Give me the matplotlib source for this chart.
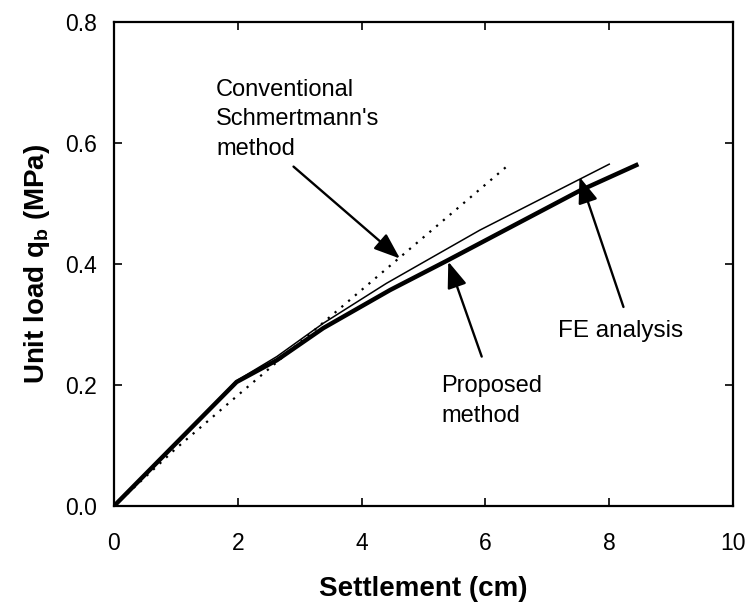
import matplotlib
matplotlib.use('Agg')
import matplotlib.pyplot as plt

plt.rcParams['font.family'] = ['Liberation Sans', 'DejaVu Sans']
plt.rcParams['mathtext.fontset'] = 'custom'
plt.rcParams['mathtext.rm'] = 'Liberation Sans'
plt.rcParams['mathtext.bf'] = 'Liberation Sans:bold'

# settlement (cm) / unit load (MPa)
fe_x = [0, 1.98, 2.63, 3.38, 4.4, 5.91, 7.52, 8.0]
fe_y = [0, 0.207, 0.247, 0.302, 0.368, 0.456, 0.540, 0.565]

prop_x = [0, 1.98, 2.63, 3.38, 4.46, 5.37, 6.5, 7.52, 8.47]
prop_y = [0, 0.205, 0.241, 0.294, 0.357, 0.405, 0.466, 0.521, 0.565]

conv_x = [0, 1.0, 2.0, 6.33]
conv_y = [0, 0.095, 0.183, 0.560]

x_ticks = [0, 2, 4, 6, 8, 10]
y_ticks = [0.0, 0.2, 0.4, 0.6, 0.8]

fig = plt.figure(figsize=(7.48, 6.11), dpi=100)
ax = fig.add_axes([0.1524, 0.1718, 0.8276, 0.7922])

ax.plot(prop_x, prop_y, color='black', lw=3.2, solid_capstyle='butt')
ax.plot(fe_x, fe_y, color='black', lw=1.1)
ax.plot(conv_x, conv_y, color='black', lw=1.6, linestyle=(0, (1, 3)))

arrow = dict(arrowstyle='-|>,head_length=0.8,head_width=0.3', lw=1.7,
             color='black', mutation_scale=20, shrinkA=0, shrinkB=0)
ax.annotate('', xy=(4.62, 0.409), xytext=(2.90, 0.561), arrowprops=arrow)
ax.annotate('', xy=(5.40, 0.404), xytext=(5.94, 0.247), arrowprops=arrow)
ax.annotate('', xy=(7.52, 0.544), xytext=(8.23, 0.329), arrowprops=arrow)

# baseline of multi-line text = baseline of the last line
ax.text(1.65, 0.580, "Conventional\nSchmertmann's\nmethod", fontsize=17,
        ha='left', va='baseline', linespacing=1.45)
ax.text(5.29, 0.139, "Proposed\nmethod", fontsize=17,
        ha='left', va='baseline', linespacing=1.45)
ax.text(7.18, 0.279, "FE analysis", fontsize=17.5, ha='left', va='baseline')

ax.set_xlim(0, 10)
ax.set_ylim(0, 0.8)
ax.set_xticks(x_ticks)
ax.set_yticks(y_ticks)
ax.set_xticklabels([str(t) for t in x_ticks])
ax.set_yticklabels(['%.1f' % t for t in y_ticks])
ax.tick_params(axis='both', direction='in', length=6, width=1.2,
               top=True, right=True, labelsize=16.5)
ax.tick_params(axis='x', pad=19)
ax.tick_params(axis='y', pad=12)
for s in ax.spines.values():
    s.set_linewidth(1.6)

ax.set_xlabel('Settlement (cm)', fontsize=20, fontweight='bold', labelpad=15)
ax.set_ylabel(r'Unit load q$_\mathbf{b}$ (MPa)', fontsize=20,
              fontweight='bold', labelpad=10)

fig.savefig('out.png', dpi=100)
